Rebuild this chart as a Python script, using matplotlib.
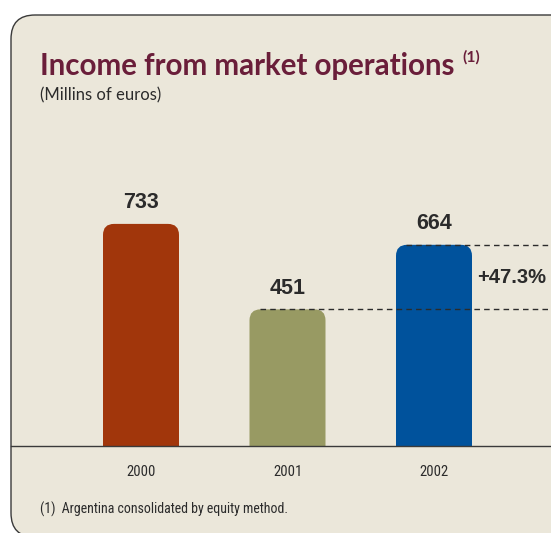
import matplotlib
matplotlib.use("Agg")
import matplotlib.pyplot as plt
from matplotlib.patches import FancyBboxPatch

# income from market operations, millions of euros
years = ["2000", "2001", "2002"]
income = [733, 451, 664]
change_label = "+47.3%"
bar_colors = ["#A1360B", "#989A63", "#00529C"]

title = "Income from market operations"
subtitle = "(Millins of euros)"
footnote = "(1)  Argentina consolidated by equity method."

BG = "#EBE7DA"
TITLE_COLOR = "#6A1E3A"
INK = "#2B2B2B"
HUMANIST = ["Lato", "DejaVu Sans"]
NARROW = ["Roboto Condensed", "DejaVu Sans"]
BOLD = ["Liberation Sans", "DejaVu Sans"]

W, H = 551, 533
fig = plt.figure(figsize=(W / 100, H / 100), dpi=100)
fig.patch.set_facecolor("white")
renderer = fig.canvas.get_renderer()


def fit_width(txt, width_px):
    # rescale a text so its rendered width is width_px
    w = txt.get_window_extent(renderer).width
    txt.set_fontsize(txt.get_fontsize() * width_px / w)
    return txt


# background layer in pixel coordinates (y down)
bg = fig.add_axes([0, 0, 1, 1])
bg.set_xlim(0, W)
bg.set_ylim(H, 0)
bg.axis("off")
panel = FancyBboxPatch((11, 15), 600, 522,
                       boxstyle="round,pad=0,rounding_size=24",
                       facecolor=BG, edgecolor="#3A3A3A", linewidth=1.0)
bg.add_patch(panel)

t = bg.text(40, 75, title, fontsize=19, fontweight="bold", color=TITLE_COLOR,
            family=HUMANIST, va="baseline", ha="left")
fit_width(t, 415)
sup = bg.text(462, 62, "(1)", fontsize=9, fontweight="bold", color=TITLE_COLOR,
              family=HUMANIST, va="baseline", ha="left")
fit_width(sup, 18)
s = bg.text(40, 100, subtitle, fontsize=10.5, color=INK, family=HUMANIST,
            va="baseline", ha="left")
fit_width(s, 122)
f = bg.text(40, 514, footnote, fontsize=10.5, color=INK, family=NARROW,
            va="baseline", ha="left")
fit_width(f, 252)

# chart axes: baseline at y=446 px, 0.303 px per million
base_px, top_px = 446, 40
px_per_unit = 0.303
left_px, right_px = 11, W
spacing = 146.5
first_center = 141
ax = fig.add_axes([left_px / W, (H - base_px) / H,
                   (right_px - left_px) / W, (base_px - top_px) / H])
ax.set_facecolor("none")
ax.set_xlim((left_px - first_center) / spacing, (right_px - first_center) / spacing)
ax.set_ylim(0, (base_px - top_px) / px_per_unit)
for sp in ["top", "right", "left"]:
    ax.spines[sp].set_visible(False)
ax.spines["bottom"].set_color("#3A3A3A")
ax.spines["bottom"].set_linewidth(1.0)
ax.set_yticks([])
ax.set_xticks(range(len(years)))
ax.set_xticklabels(years, fontsize=10.5, color=INK, family=NARROW)
ax.tick_params(axis="x", length=0, pad=14)

bar_w = 76 / spacing
radius_x = 11 / spacing
aspect = (11 / px_per_unit) / radius_x
for i, (v, c) in enumerate(zip(income, bar_colors)):
    box = FancyBboxPatch((i - bar_w / 2, -60), bar_w, v + 60,
                         boxstyle=f"round,pad=0,rounding_size={radius_x}",
                         mutation_aspect=aspect, facecolor=c, edgecolor="none",
                         zorder=2)
    ax.add_patch(box)
    ax.text(i, v + 21 / px_per_unit, str(v), ha="center", va="center",
            fontsize=15.5, fontweight="bold", color=INK, family=BOLD)

# guide lines from 2001 and 2002 tops
xmax = ax.get_xlim()[1]
for i in (1, 2):
    ax.plot([i - 0.19, xmax], [income[i], income[i]], color="#2B2B2B",
            linewidth=1.0, linestyle=(0, (4, 3)), zorder=3, clip_on=False)
ax.text(2 + 43 / spacing, (income[1] + income[2]) / 2, change_label,
        ha="left", va="center", fontsize=14.5, fontweight="bold", color=INK,
        family=BOLD)

fig.savefig("out.png", dpi=100, facecolor=fig.get_facecolor())
